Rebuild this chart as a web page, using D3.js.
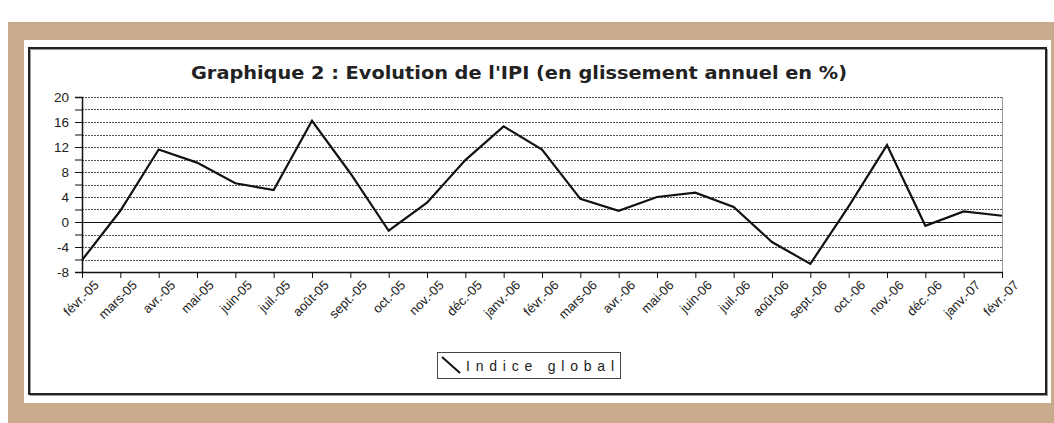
<!DOCTYPE html>
<html>
<head>
<meta charset="utf-8">
<script src="https://cdn.jsdelivr.net/npm/d3@7"></script>
<style>
  body { margin: 0; background: #fff; }
  text { font-family: "Liberation Sans", Arial, sans-serif; fill: #222; }
</style>
</head>
<body>
<div id="chart"></div>
<script>
var months = ["févr.-05","mars-05","avr.-05","mai-05","juin-05","juil.-05","août-05","sept.-05",
  "oct.-05","nov.-05","déc.-05","janv.-06","févr.-06","mars-06","avr.-06","mai-06","juin-06",
  "juil.-06","août-06","sept.-06","oct.-06","nov.-06","déc.-06","janv.-07","févr.-07"];
var ipi = [-6.1, 1.8, 11.6, 9.5, 6.2, 5.1, 16.2, 7.8, -1.4, 3.1, 9.9, 15.3, 11.6,
  3.7, 1.8, 4.0, 4.7, 2.4, -3.2, -6.7, 2.5, 12.3, -0.6, 1.7, 1.0];
var yTicks = [20, 16, 12, 8, 4, 0, -4, -8];
var gridTicks = d3.range(-8, 21, 2);
var seriesName = "Indice global";
var title = "Graphique 2 : Evolution de l'IPI (en glissement annuel en %)";

function drawChart() {
  var W = 1054, H = 423;
  var svg = d3.select("#chart").append("svg")
      .attr("width", W)
      .attr("height", H);

  // frame: tan background, white card, dark border
  svg.append("rect").attr("x", 8).attr("y", 22).attr("width", W - 8).attr("height", H - 22)
      .attr("fill", "#c9aa8d");
  svg.append("rect").attr("x", 24).attr("y", 40).attr("width", 1027).attr("height", 363)
      .attr("fill", "#fff");
  svg.append("rect").attr("x", 30.5).attr("y", 49.5).attr("width", 1017).attr("height", 346)
      .attr("fill", "none").attr("stroke", "#999").attr("stroke-width", 1);
  svg.append("rect").attr("x", 29).attr("y", 48).attr("width", 1017).attr("height", 346)
      .attr("fill", "none").attr("stroke", "#222").attr("stroke-width", 2);

  var pLeft = 82, pRight = 1002, pTop = 97, pBottom = 272;

  var x = d3.scalePoint().domain(months).range([pLeft, pRight]);
  var y = d3.scaleLinear().domain([-8, 20]).range([pBottom, pTop]);

  svg.append("text")
      .attr("x", 519)
      .attr("y", 79)
      .attr("text-anchor", "middle")
      .attr("textLength", 656)
      .attr("lengthAdjust", "spacingAndGlyphs")
      .style("font-family", "DejaVu Sans, sans-serif")
      .style("font-size", "18px")
      .style("font-weight", "bold")
      .text(title);

  // grid
  svg.append("g").selectAll("line")
      .data(gridTicks.filter(function(d) { return d != 0; }))
    .enter().append("line")
      .attr("x1", pLeft).attr("x2", pRight)
      .attr("y1", function(d) { return Math.round(y(d)) + 0.5; })
      .attr("y2", function(d) { return Math.round(y(d)) + 0.5; })
      .attr("stroke", "#555")
      .attr("stroke-width", 1)
      .attr("stroke-dasharray", "2,1");

  svg.append("line")
      .attr("x1", pRight + 0.5).attr("x2", pRight + 0.5)
      .attr("y1", pTop).attr("y2", pBottom)
      .attr("stroke", "#999");

  svg.append("line")
      .attr("x1", pLeft).attr("x2", pRight)
      .attr("y1", Math.round(y(0)) + 0.5).attr("y2", Math.round(y(0)) + 0.5)
      .attr("stroke", "#111").attr("stroke-width", 1.2);

  // y axis
  var yAxis = svg.append("g")
      .attr("transform", "translate(" + pLeft + ",0)")
      .call(d3.axisLeft(y).tickValues(gridTicks).tickSize(7).tickFormat(function(d) {
        return yTicks.indexOf(d) >= 0 ? d : "";
      }));
  yAxis.select(".domain").attr("stroke", "#111").attr("stroke-width", 1.5);
  yAxis.selectAll(".tick line").attr("stroke", "#111");
  yAxis.selectAll(".tick text")
      .attr("x", -13)
      .style("font-size", "13.5px")
      .style("font-family", "Liberation Sans, Arial, sans-serif")
      .attr("fill", "#222");

  // x axis
  var xAxis = svg.append("g")
      .attr("transform", "translate(0," + pBottom + ")")
      .call(d3.axisBottom(x).tickSize(6).tickSizeOuter(0));
  xAxis.select(".domain").attr("stroke", "#111").attr("stroke-width", 1.5);
  xAxis.selectAll(".tick line").attr("stroke", "#111");
  xAxis.selectAll(".tick text")
      .attr("text-anchor", "end")
      .attr("transform", "translate(17,14) rotate(-45)")
      .attr("x", 0).attr("y", 0).attr("dy", 0)
      .style("font-size", "13px")
      .style("font-family", "Liberation Sans, Arial, sans-serif")
      .attr("fill", "#222");

  // series
  var line = d3.line()
      .x(function(d, i) { return x(months[i]); })
      .y(function(d) { return y(d); });

  svg.append("path")
      .datum(ipi)
      .attr("d", line)
      .attr("fill", "none")
      .attr("stroke", "#111")
      .attr("stroke-width", 2.2)
      .attr("stroke-linejoin", "miter");

  // legend
  var lg = svg.append("g");
  lg.append("rect")
      .attr("x", 437.5).attr("y", 352.5).attr("width", 183).attr("height", 26)
      .attr("fill", "#fff").attr("stroke", "#444").attr("stroke-width", 1);
  lg.append("line")
      .attr("x1", 442).attr("y1", 357).attr("x2", 460).attr("y2", 373)
      .attr("stroke", "#111").attr("stroke-width", 2);
  lg.append("text")
      .attr("x", 466).attr("y", 371)
      .attr("textLength", 148)
      .attr("lengthAdjust", "spacing")
      .style("font-size", "14px")
      .text(seriesName);
}

drawChart();
</script>
</body>
</html>
